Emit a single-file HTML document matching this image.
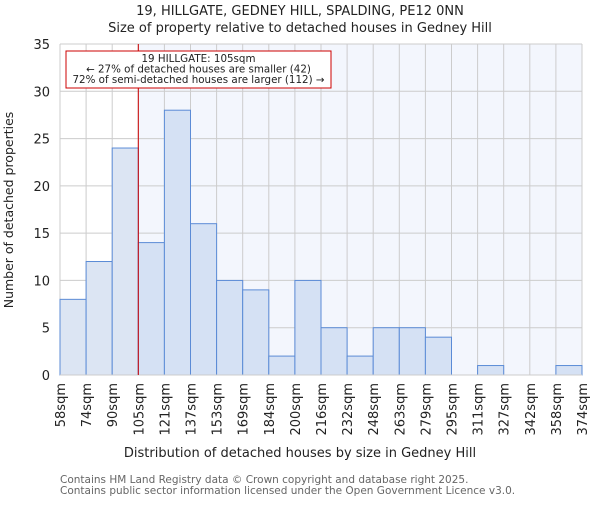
<!DOCTYPE html>
<html><head><meta charset="utf-8"><style>
body{margin:0;background:#fff;}
svg text{font-family:"DejaVu Sans","Liberation Sans",sans-serif;}
</style></head><body>
<svg id="chart" width="600" height="500" xmlns="http://www.w3.org/2000/svg">
<text x="300" y="15" text-anchor="middle" font-size="13" fill="#222">19, HILLGATE, GEDNEY HILL, SPALDING, PE12 0NN</text>
<text x="300" y="32" text-anchor="middle" font-size="13" fill="#222">Size of property relative to detached houses in Gedney Hill</text>
<g id="plot"></g>
<text x="300" y="457" text-anchor="middle" font-size="13" fill="#222">Distribution of detached houses by size in Gedney Hill</text>
<text transform="translate(13,210) rotate(-90)" text-anchor="middle" font-size="12.5" fill="#222">Number of detached properties</text>
<text x="60" y="483" font-size="10.5" fill="#666">Contains HM Land Registry data © Crown copyright and database right 2025.</text>
<text x="60" y="494" font-size="10.5" fill="#666">Contains public sector information licensed under the Open Government Licence v3.0.</text>
</svg>
<script>
const tickLabels=["58sqm","74sqm","90sqm","105sqm","121sqm","137sqm","153sqm","169sqm","184sqm","200sqm","216sqm","232sqm","248sqm","263sqm","279sqm","295sqm","311sqm","327sqm","342sqm","358sqm","374sqm"];
const counts=[8,12,24,14,28,16,10,9,2,10,5,2,5,5,4,0,1,0,0,1];
const yTicks=[0,5,10,15,20,25,30,35];
const markerIndex=3;
const NS="http://www.w3.org/2000/svg";
const L=60,R=582,T=44,B=375,yMax=35;
const n=counts.length;
const x=i=>L+i*(R-L)/n;
const y=v=>B-v*(B-T)/yMax;
const g=document.getElementById('plot');
function el(t,a){const e=document.createElementNS(NS,t);for(const k in a)e.setAttribute(k,a[k]);g.appendChild(e);return e;}
let e;
e=el('rect',{x:L,y:T,width:R-L,height:B-T,fill:'#fff'});


e=el('rect',{x:x(markerIndex),y:T,width:R-x(markerIndex),height:B-T,fill:'#f3f6fd'});


yTicks.forEach(v=>{
  e=el('line',{x1:L,x2:R,y1:y(v),y2:y(v),stroke:'#ccc','stroke-width':1});
  
  
  e=el('text',{x:L-10,y:y(v)+5,'text-anchor':'end','font-size':13,fill:'#222'});
  e.textContent=v;
  
  
});
tickLabels.forEach((t,i)=>{
  e=el('line',{x1:x(i),x2:x(i),y1:T,y2:B,stroke:'#ccc','stroke-width':1});
  
  
  e=el('text',{transform:`translate(${x(i)+5},${B+8}) rotate(-90)`,'text-anchor':'end','font-size':13,fill:'#222'});
  e.textContent=t;
  
  
});
counts.forEach((c,i)=>{
  e=el('rect',{x:x(i),y:y(c),width:x(i+1)-x(i),height:B-y(c),fill:i<markerIndex?'#dce5f3':'#d5e1f4',stroke:'#5b8bd6','stroke-width':1});
  
  
});
e=el('line',{x1:L,x2:R,y1:B,y2:B,stroke:'#ccc','stroke-width':1});


e=el('line',{x1:x(markerIndex),x2:x(markerIndex),y1:T,y2:B,stroke:'#c00','stroke-width':1});


e=el('rect',{x:66,y:51,width:265,height:37,fill:'#fff',stroke:'#c00','stroke-width':1});


["19 HILLGATE: 105sqm","← 27% of detached houses are smaller (42)","72% of semi-detached houses are larger (112) →"].forEach((t,k)=>{
  e=el('text',{x:198.5,y:62+k*10.5,'text-anchor':'middle','font-size':10.3,fill:'#222'});
  e.textContent=t;
  
  
});
</script>
</body></html>
